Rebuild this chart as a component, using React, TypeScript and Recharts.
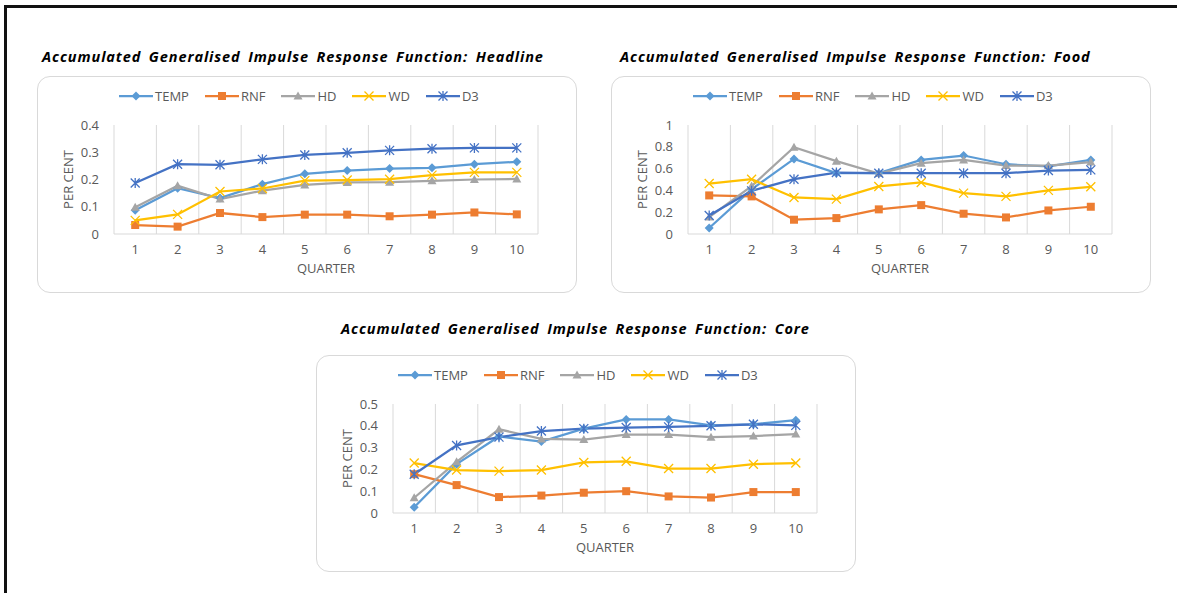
import { CartesianGrid, Line, LineChart, XAxis, YAxis } from "recharts"

const quarters = [1, 2, 3, 4, 5, 6, 7, 8, 9, 10]
const seriesNames = ["TEMP", "RNF", "HD", "WD", "D3"]
const seriesColors = ["#5b9bd5", "#ed7d31", "#a5a5a5", "#ffc000", "#4472c4"]
const seriesMarkers = ["diamond", "square", "triangle", "cross", "star"]

// Headline
const headlineTemp = [0.087, 0.168, 0.132, 0.183, 0.221, 0.233, 0.24, 0.243, 0.256, 0.265]
const headlineRnf = [0.033, 0.027, 0.077, 0.062, 0.071, 0.071, 0.065, 0.071, 0.079, 0.072]
const headlineHd = [0.098, 0.177, 0.128, 0.159, 0.18, 0.189, 0.19, 0.195, 0.2, 0.202]
const headlineWd = [0.05, 0.072, 0.156, 0.167, 0.196, 0.198, 0.201, 0.216, 0.226, 0.226]
const headlineD3 = [0.187, 0.256, 0.254, 0.274, 0.29, 0.298, 0.307, 0.313, 0.316, 0.316]
const headlineTicks = [0, 0.1, 0.2, 0.3, 0.4]

// Food
const foodTemp = [0.055, 0.41, 0.689, 0.558, 0.558, 0.68, 0.72, 0.64, 0.62, 0.68]
const foodRnf = [0.354, 0.345, 0.131, 0.146, 0.226, 0.265, 0.186, 0.152, 0.216, 0.25]
const foodHd = [0.155, 0.44, 0.796, 0.668, 0.555, 0.65, 0.68, 0.628, 0.628, 0.66]
const foodWd = [0.463, 0.503, 0.335, 0.32, 0.436, 0.473, 0.375, 0.345, 0.4, 0.433]
const foodD3 = [0.17, 0.396, 0.503, 0.564, 0.558, 0.558, 0.558, 0.558, 0.582, 0.588]
const foodTicks = [0, 0.2, 0.4, 0.6, 0.8, 1]

// Core
const coreTemp = [0.026, 0.224, 0.351, 0.328, 0.387, 0.429, 0.429, 0.402, 0.407, 0.426]
const coreRnf = [0.178, 0.128, 0.073, 0.08, 0.093, 0.1, 0.076, 0.071, 0.096, 0.096]
const coreHd = [0.07, 0.235, 0.384, 0.34, 0.337, 0.36, 0.36, 0.348, 0.353, 0.362]
const coreWd = [0.229, 0.197, 0.192, 0.197, 0.232, 0.237, 0.204, 0.204, 0.224, 0.229]
const coreD3 = [0.178, 0.31, 0.348, 0.376, 0.387, 0.392, 0.395, 0.4, 0.407, 0.402]
const coreTicks = [0, 0.1, 0.2, 0.3, 0.4, 0.5]

const gridBounds = [0, ...quarters].map((q) => q + 0.5)

const FONT = "'Open Sans', sans-serif"
const TEXT = "#595959"

function buildRows(series: number[][]) {
  return quarters.map((q, i) => {
    const row: Record<string, number> = { q }
    seriesNames.forEach((name, s) => {
      row[name] = series[s][i]
    })
    return row
  })
}

function Marker({ cx, cy, kind, color }: { cx: number; cy: number; kind: string; color: string }) {
  if (cx == null || cy == null) return null
  if (kind === "diamond") {
    const r = 4.5
    return <path d={`M${cx},${cy - r}L${cx + r},${cy}L${cx},${cy + r}L${cx - r},${cy}Z`} fill={color} />
  }
  if (kind === "square") {
    return <rect x={cx - 4} y={cy - 4} width={8} height={8} fill={color} />
  }
  if (kind === "triangle") {
    return <path d={`M${cx},${cy - 4.5}L${cx + 4.5},${cy + 3.5}L${cx - 4.5},${cy + 3.5}Z`} fill={color} />
  }
  if (kind === "cross") {
    const r = 4.5
    return (
      <path d={`M${cx - r},${cy - r}L${cx + r},${cy + r}M${cx - r},${cy + r}L${cx + r},${cy - r}`} stroke={color} strokeWidth={1.3} fill="none" />
    )
  }
  const r = 4.5
  return (
    <path
      d={`M${cx - r},${cy - r}L${cx + r},${cy + r}M${cx - r},${cy + r}L${cx + r},${cy - r}M${cx},${cy - r - 0.5}L${cx},${cy + r + 0.5}`}
      stroke={color}
      strokeWidth={1.3}
      fill="none"
    />
  )
}

function LegendRow() {
  return (
    <div style={{ position: "absolute", left: 82, top: 13, display: "flex", alignItems: "center", fontFamily: FONT, fontSize: 13, color: TEXT }}>
      {seriesNames.map((name, i) => (
        <div key={name} style={{ display: "flex", alignItems: "center", marginRight: 16 }}>
          <svg width={34} height={14}>
            <line x1={0} y1={7} x2={34} y2={7} stroke={seriesColors[i]} strokeWidth={2.25} />
            <Marker cx={17} cy={7} kind={seriesMarkers[i]} color={seriesColors[i]} />
          </svg>
          <span style={{ marginLeft: 2, lineHeight: "14px" }}>{name}</span>
        </div>
      ))}
    </div>
  )
}

function IrfChart({
  left,
  top,
  series,
  ticks,
}: {
  left: number
  top: number
  series: number[][]
  ticks: number[]
}) {
  const rows = buildRows(series)
  const max = ticks[ticks.length - 1]
  return (
    <div style={{ position: "absolute", left, top, width: 540, height: 217 }}>
      <div
        style={{
          position: "absolute",
          inset: 0,
          border: "1px solid #d9d9d9",
          borderRadius: 13,
          boxSizing: "border-box",
        }}
      />
      <LineChart width={540} height={217} data={rows} margin={{ top: 49, right: 39, left: 20, bottom: 19 }}>
        <XAxis xAxisId="grid" type="number" dataKey="q" domain={[0.5, 10.5]} ticks={gridBounds} hide />
        <CartesianGrid xAxisId="grid" horizontal={false} stroke="#d9d9d9" strokeWidth={1} />
        <XAxis
          dataKey="q"
          type="number"
          domain={[0.5, 10.5]}
          ticks={quarters}
          interval={0}
          height={40}
          tickLine={false}
          axisLine={{ stroke: "#d9d9d9" }}
          tickMargin={5}
          tick={{ fill: TEXT, fontSize: 13, fontFamily: FONT }}
          label={{ value: "QUARTER", position: "insideBottom", offset: 1, fill: TEXT, fontSize: 13, fontFamily: FONT }}
        />
        <YAxis
          width={57}
          domain={[0, max]}
          ticks={ticks}
          interval={0}
          tickLine={false}
          axisLine={false}
          tickMargin={9}
          tick={{ fill: TEXT, fontSize: 13, fontFamily: FONT }}
          label={{
            value: "PER CENT",
            angle: -90,
            position: "insideLeft",
            offset: 11,
            fill: TEXT,
            fontSize: 13,
            fontFamily: FONT,
            style: { textAnchor: "middle" },
          }}
        />
        {seriesNames.map((name, i) => (
          <Line
            key={name}
            dataKey={name}
            type="linear"
            stroke={seriesColors[i]}
            strokeWidth={2.25}
            isAnimationActive={false}
            dot={(p: any) => <Marker key={`${name}-${p.index}`} cx={p.cx} cy={p.cy} kind={seriesMarkers[i]} color={seriesColors[i]} />}
            activeDot={false}
          />
        ))}
      </LineChart>
      <LegendRow />
    </div>
  )
}

function Title({ left, top, text }: { left: number; top: number; text: string }) {
  return (
    <div
      style={{
        position: "absolute",
        left,
        top,
        fontFamily: FONT,
        fontWeight: 700,
        fontStyle: "italic",
        fontSize: 14.5,
        letterSpacing: 0.9,
        wordSpacing: 3,
        whiteSpace: "nowrap",
        color: "#000",
        lineHeight: "18px",
      }}
    >
      {text}
    </div>
  )
}

export default function App() {
  return (
    <div style={{ position: "absolute", left: 0, top: 0, width: 1177, height: 593, background: "#fff", overflow: "hidden" }}>
      <div
        style={{
          position: "absolute",
          left: 4,
          top: 5,
          width: 1300,
          height: 700,
          borderLeft: "3px solid #111",
          borderTop: "3px solid #111",
        }}
      />
      <Title left={42} top={48} text="Accumulated Generalised Impulse Response Function: Headline" />
      <Title left={620} top={48} text="Accumulated Generalised Impulse Response Function: Food" />
      <Title left={341} top={320} text="Accumulated Generalised Impulse Response Function: Core" />
      <IrfChart left={37} top={76} series={[headlineTemp, headlineRnf, headlineHd, headlineWd, headlineD3]} ticks={headlineTicks} />
      <IrfChart left={611} top={76} series={[foodTemp, foodRnf, foodHd, foodWd, foodD3]} ticks={foodTicks} />
      <IrfChart left={316} top={355} series={[coreTemp, coreRnf, coreHd, coreWd, coreD3]} ticks={coreTicks} />
    </div>
  )
}
